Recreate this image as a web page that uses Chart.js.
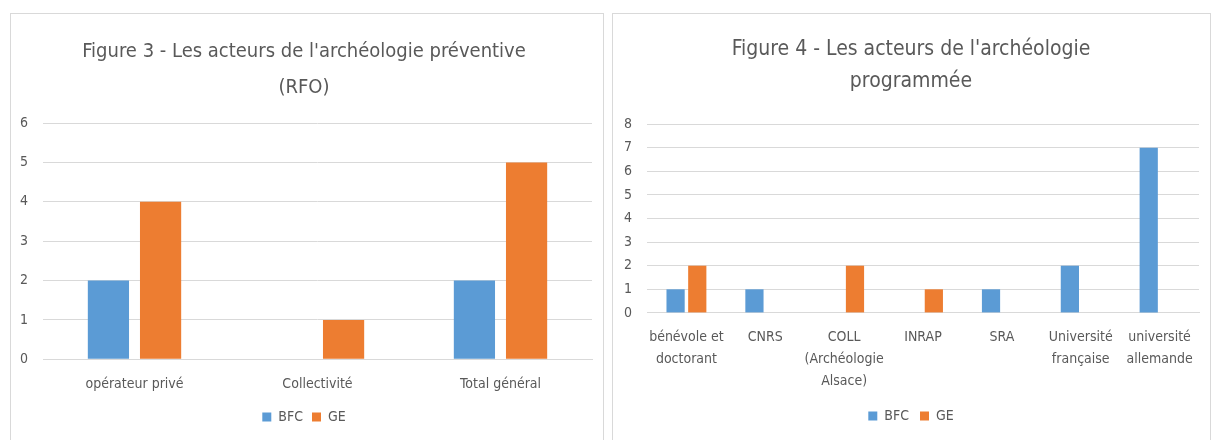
<!DOCTYPE html>
<html>
<head>
<meta charset="utf-8">
<script src="https://cdn.jsdelivr.net/npm/chart.js@4.4.1/dist/chart.umd.min.js"></script>
<style>
  body { margin: 0; background: #fff; width: 1215px; height: 440px; overflow: hidden; position: relative; }
  .box { position: absolute; border: 1px solid #d9d9d9; background: #fff; }
  #box3 { left: 10px; top: 13px; width: 592px; height: 440px; }
  #box4 { left: 612px; top: 13px; width: 597px; height: 440px; }
</style>
</head>
<body>
<div class="box" id="box3"><canvas id="fig3"></canvas></div>
<div class="box" id="box4"><canvas id="fig4"></canvas></div>
<script>
// Figure 3 data
var fig3Labels = ['opérateur privé', 'Collectivité', 'Total général'];
var fig3BFC = [2, null, 2];
var fig3GE = [4, 1, 5];

// Figure 4 data
var fig4Labels = [['bénévole et', 'doctorant'], 'CNRS', ['COLL', '(Archéologie', 'Alsace)'], 'INRAP', 'SRA', ['Université', 'française'], ['université', 'allemande']];
var fig4BFC = [1, 1, null, null, 1, 2, 7];
var fig4GE = [2, null, 2, 1, null, null, null];

var seriesNames = ['BFC', 'GE'];
var blue = '#5b9bd5';
var orange = '#ed7d31';
var textColor = '#595959';
var gridColor = '#d9d9d9';
var fontFamily = "'Liberation Sans Narrow', 'DejaVu Sans Condensed', sans-serif";

// cfg: layout knobs per figure (title size, spacing, axis width, bar widths)
function makeChart(id, title, labels, bfc, ge, yMax, cfg) {
    return new Chart(document.getElementById(id), {
        type: 'bar',
        data: {
            labels: labels,
            datasets: [{
                label: seriesNames[0],
                data: bfc,
                backgroundColor: blue,
                categoryPercentage: cfg.catPct,
                barPercentage: cfg.barPct
            }, {
                label: seriesNames[1],
                data: ge,
                backgroundColor: orange,
                categoryPercentage: cfg.catPct,
                barPercentage: cfg.barPct
            }]
        },
        options: {
            responsive: true,
            maintainAspectRatio: false,
            animation: false,
            layout: {
                padding: { top: cfg.padTop, left: cfg.padLeft, right: cfg.padRight, bottom: cfg.padBottom }
            },
            plugins: {
                title: {
                    display: true,
                    text: title,
                    color: textColor,
                    font: { family: fontFamily, size: cfg.titleSize, weight: 'normal', lineHeight: cfg.titleLH },
                    padding: { top: 0, bottom: cfg.titleGap }
                },
                legend: {
                    position: 'bottom',
                    labels: {
                        color: textColor,
                        boxWidth: 9,
                        boxHeight: 9,
                        padding: cfg.legendPad,
                        font: { family: fontFamily, size: 14 }
                    }
                },
                tooltip: { enabled: false }
            },
            scales: {
                x: {
                    grid: { display: false },
                    border: { color: gridColor },
                    ticks: {
                        color: textColor,
                        font: { family: fontFamily, size: 14, lineHeight: 1.55 },
                        maxRotation: 0,
                        autoSkip: false,
                        padding: cfg.xPad
                    }
                },
                y: {
                    min: 0,
                    max: yMax,
                    grid: { color: gridColor, drawTicks: false },
                    border: { display: false },
                    afterFit: function(scale) { scale.width = cfg.axisWidth; },
                    ticks: {
                        stepSize: 1,
                        color: textColor,
                        font: { family: fontFamily, size: 14 },
                        padding: 15
                    }
                }
            }
        }
    });
}

makeChart('fig3', ["Figure 3 - Les acteurs de l'archéologie préventive", '(RFO)'],
    fig3Labels, fig3BFC, fig3GE, 6,
    { titleSize: 20, titleLH: 1.8, titleGap: 17, padTop: 20, padLeft: 5, padRight: 11, padBottom: 20,
      legendPad: 9, xPad: 6, axisWidth: 27, catPct: 0.57, barPct: 0.79 });
makeChart('fig4', ["Figure 4 - Les acteurs de l'archéologie", 'programmée'],
    fig4Labels, fig4BFC, fig4GE, 8,
    { titleSize: 21, titleLH: 1.55, titleGap: 26, padTop: 19, padLeft: 10, padRight: 11, padBottom: 21,
      legendPad: 11, xPad: 6, axisWidth: 24, catPct: 0.55, barPct: 0.84 });
</script>
</body>
</html>
